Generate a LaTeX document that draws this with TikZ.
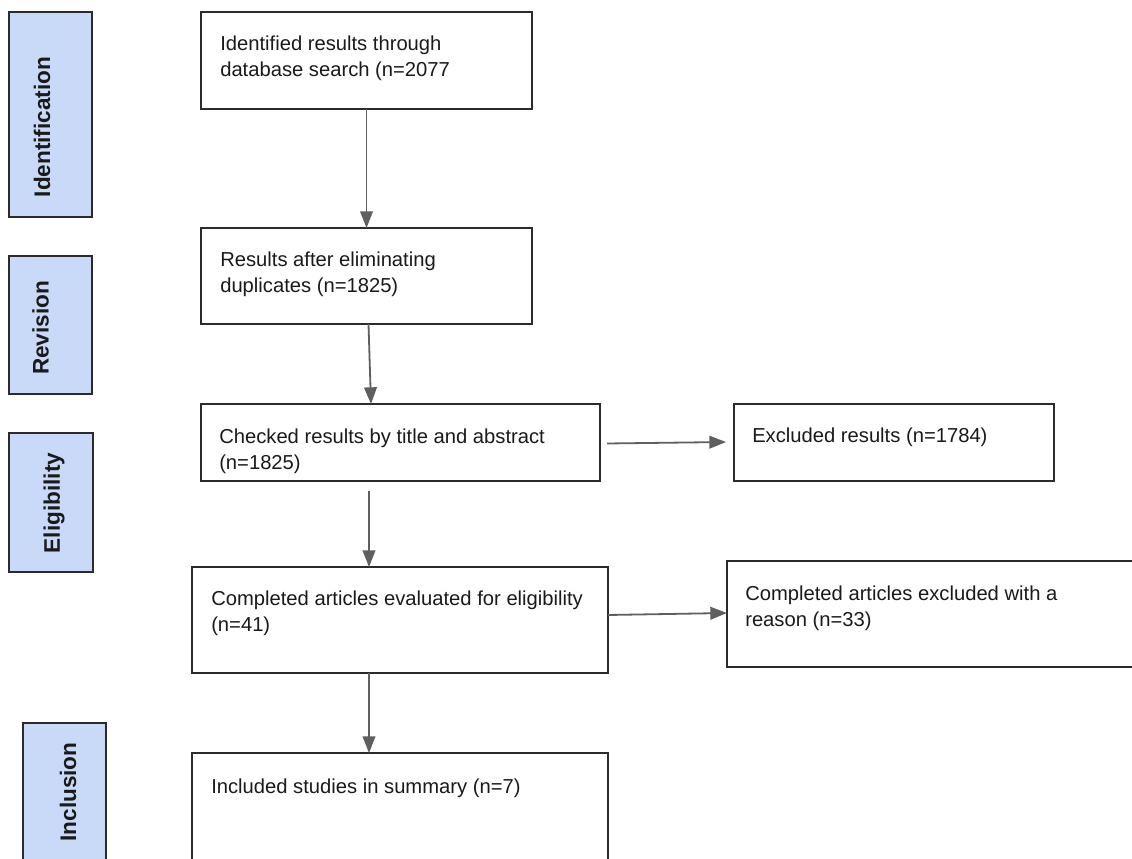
\documentclass[tikz,border=0pt]{standalone}
\usepackage{fontspec}
\setmainfont{Liberation Sans}
\usetikzlibrary{arrows.meta,calc}
\definecolor{lblfill}{HTML}{C9DAF8}
\definecolor{edgec}{HTML}{2B2B2B}
\definecolor{arrowc}{HTML}{5F5F5F}
\definecolor{txt}{HTML}{1A1A1A}
\begin{document}
\begin{tikzpicture}[x=0.75pt,y=-0.75pt,
  box/.style 2 args={rectangle,draw=edgec,line width=1.5pt,fill=white,inner sep=0pt,outer sep=0pt,
    minimum width=#1*0.75pt,minimum height=#2*0.75pt},
  phase/.style 2 args={box={#1}{#2},fill=lblfill},
  phasetext/.style={rotate=90,font=\fontsize{16.9}{20}\selectfont\bfseries,text=txt,inner sep=0pt},
  boxtext/.style={anchor=north west,align=left,inner sep=0pt,font=\fontsize{15.15}{19.1}\selectfont,text=txt},
  arr/.style={draw=arrowc,line width=1.35pt,-{Triangle[length=12.5pt,width=9.5pt]}}]
\useasboundingbox (0,0) rectangle (1132,859);
\fill[white] (0,0) rectangle (1132,859);
\clip (0,0) rectangle (1132,859);

% phase labels
\node[phase={83}{205}] (pid) at (50.5,114.5) {};
\node[phasetext] (tid) at (42,127) {Identification};
\node[phase={83}{138}] (prev) at (50.5,325) {};
\node[phasetext] (trev) at (40.5,328) {Revision};
\node[phase={84}{139}] (pel) at (51,502.5) {};
\node[phasetext] (tel) at (54,503) {Eligibility};
\node[phase={83}{170}] (pin) at (64.5,808) {};
\node[phasetext] (tin) at (68,792) {Inclusion};

% main boxes
\node[box={331}{97}] (b1) at (366.5,60.5) {};
\node[box={331}{96}] (b2) at (366.5,276) {};
\node[box={399}{77}] (b3) at (400.5,442.5) {};
\node[box={416}{106}] (b4) at (400,620) {};
\node[box={416}{150}] (b5) at (400,828) {};
\node[box={320}{77}] (b6) at (894,442.5) {};
\node[box={430}{106}] (b7) at (942,614) {};

% texts
\node[boxtext] (t1) at ($(b1.north west)+(19,24)$) {Identified results through\\database search (n=2077};
\node[boxtext] (t2) at ($(b2.north west)+(19,24)$) {Results after eliminating\\duplicates (n=1825)};
\node[boxtext] (t3) at ($(b3.north west)+(18,25)$) {Checked results by title and abstract\\(n=1825)};
\node[boxtext] (t4) at ($(b4.north west)+(19,24)$) {Completed articles evaluated for eligibility\\(n=41)};
\node[boxtext] (t5) at ($(b5.north west)+(19,26)$) {Included studies in summary (n=7)};
\node[boxtext] (t6) at ($(b6.north west)+(18,24)$) {Excluded results (n=1784)};
\node[boxtext] (t7) at ($(b7.north west)+(18,25)$) {Completed articles excluded with a\\reason (n=33)};

% arrows
\draw[arr] (b1.south) -- (b2.north);
\draw[arr] ($(b2.south)+(2,0)$) -- ($(b3.north)+(-29.5,0)$);
\draw[arr] ($(b3.south)+(-31.5,10)$) -- ($(b4.north)+(-31,0)$);
\draw[arr] ($(b4.south)+(-31,0)$) -- ($(b5.north)+(-31,0)$);
\draw[arr] ($(b3.east)+(7,1)$) -- ($(b6.west)+(-8,-0.5)$);
\draw[arr] ($(b4.east)+(0,-5)$) -- ($(b7.west)+(0,-1)$);
\end{tikzpicture}
\end{document}
